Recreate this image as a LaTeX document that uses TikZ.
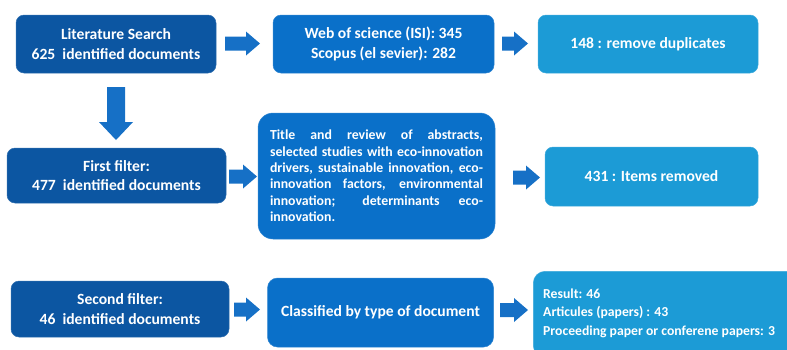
\documentclass[tikz,border=0pt]{standalone}
\usepackage{fontspec}
\setmainfont{Carlito}
\definecolor{dkblue}{RGB}{12,86,162}
\definecolor{mdblue}{RGB}{10,112,201}
\definecolor{ltblue}{RGB}{28,155,214}
\definecolor{arrblue}{RGB}{22,112,198}
\newcommand\rarr[3]{% x left, y center, length
  \fill[arrblue] (#1,#2-7) -- ++(#3-14,0) -- ++(0,-5) -- ++(14,12) -- ++(-14,12) -- ++(0,-5) -- ++(-#3+14,0) -- cycle;}
\begin{document}
\begin{tikzpicture}[x=1pt,y=-1pt,
  box/.style={rounded corners=8pt, fill=#1, draw=#1!85!white, line width=0.5pt, text=white,
    font=\bfseries\fontsize{15.6}{19.5}\selectfont, align=center, inner sep=0pt}]
\useasboundingbox (0,0) rectangle (787,349);
\clip (0,0) rectangle (787,349);
% top row
\node[box=dkblue, minimum width=200pt, minimum height=58pt] (lit) at (116,44)
  {Literature Search\\625\ \ identified documents};
\node[box=mdblue, minimum width=221pt, minimum height=58pt] (web) at (383.5,44)
  {Web of science (ISI): 345\\Scopus (el sevier): 282};
\node[box=ltblue, minimum width=220pt, minimum height=58pt] (dup) at (648,44)
  {148 : remove duplicates};
% middle row
\node[box=dkblue, minimum width=219pt, minimum height=55pt] (first) at (116.5,175.5)
  {First filter:\\477\ \ identified documents};
\node[box=mdblue, rounded corners=15pt, minimum width=237pt, minimum height=126pt] (title) at (376.5,176)
  {\parbox{213pt}{\bfseries\fontsize{13.8}{16.4}\selectfont\tolerance=10000\hbadness=10000\hfuzz=20pt\hyphenpenalty=10000
   Title and review of abstracts,\linebreak
   selected studies with eco-innovation\linebreak
   drivers, sustainable innovation, eco-\linebreak
   innovation factors, environmental\linebreak
   innovation; determinants eco-\linebreak
   innovation.}};
\node[box=ltblue, minimum width=213pt, minimum height=59pt] (rem) at (651.5,176.5)
  {431 : Items removed};
% bottom row
\node[box=dkblue, minimum width=218pt, minimum height=56pt] (second) at (120,309)
  {Second filter:\\46\ \ identified documents};
\node[box=mdblue, rounded corners=10pt, minimum width=226pt, minimum height=69pt] (class) at (380.5,312.5)
  {Classified by type of document};
\node[box=ltblue, rounded corners=12pt, minimum width=270pt, minimum height=86pt, anchor=north west] (res) at (533,271) {};
\node[text=white, font=\bfseries\fontsize{13.7}{18.5}\selectfont, align=left, anchor=west, inner sep=0pt] (restext) at (543,313)
  {Result: 46\\Articules (papers) : 43\\Proceeding paper or conferene papers: 3};
% block arrows
\rarr{225}{43.5}{35}
\rarr{502}{43.5}{26}
\rarr{229}{176.5}{28}
\rarr{513}{177.5}{27}
\rarr{234}{309.5}{26}
\rarr{500}{310}{28}
\fill[arrblue] (107,87) -- (125,87) -- (125,122) -- (133,122) -- (116,140) -- (99,122) -- (107,122) -- cycle;
\end{tikzpicture}
\end{document}
